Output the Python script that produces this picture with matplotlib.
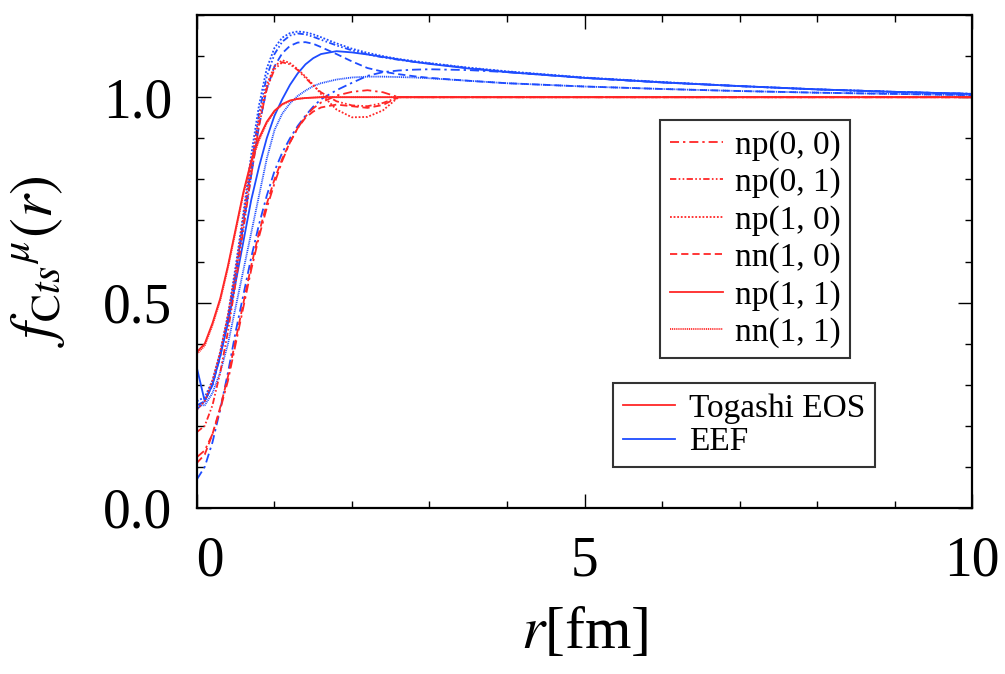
import matplotlib
matplotlib.use("Agg")
import matplotlib.pyplot as plt
from matplotlib.lines import Line2D
from matplotlib.ticker import MultipleLocator, FormatStrFormatter, FuncFormatter

plt.rcParams['font.family'] = ['Liberation Serif', 'DejaVu Serif']
plt.rcParams['mathtext.fontset'] = 'stix'

# r grid [fm]
r = [0, 0.1, 0.2, 0.3, 0.4, 0.5, 0.6, 0.7, 0.8, 0.9, 1.0, 1.1, 1.2, 1.3, 1.4, 1.5,
     1.6, 1.8, 2.0, 2.2, 2.4, 2.6, 2.8, 3.0, 3.5, 4, 5, 6, 7, 8, 9, 10]

channels = ['np(0, 0)', 'np(0, 1)', 'np(1, 0)', 'nn(1, 0)', 'np(1, 1)', 'nn(1, 1)']

# Togashi EOS (red)
tog_np00 = [0.124, 0.14, 0.18, 0.24, 0.31, 0.40, 0.49, 0.58, 0.66, 0.73, 0.79, 0.845, 0.89, 0.925, 0.953, 0.973,
            0.987, 1.004, 1.013, 1.017, 1.012, 1.0, 1.0, 1.0, 1.0, 1.0, 1.0, 1.0, 1.0, 1.0, 1.0, 1.0]
tog_np01 = [0.185, 0.20, 0.25, 0.33, 0.43, 0.55, 0.68, 0.81, 0.93, 1.02, 1.068, 1.085, 1.08, 1.066, 1.047, 1.028,
            1.012, 0.99, 0.98, 0.978, 0.986, 1.0, 1.0, 1.0, 1.0, 1.0, 1.0, 1.0, 1.0, 1.0, 1.0, 1.0]
tog_np10 = [0.24, 0.26, 0.31, 0.38, 0.47, 0.58, 0.71, 0.84, 0.95, 1.03, 1.075, 1.09, 1.083, 1.068, 1.05, 1.03,
            1.008, 0.97, 0.951, 0.952, 0.968, 1.0, 1.0, 1.0, 1.0, 1.0, 1.0, 1.0, 1.0, 1.0, 1.0, 1.0]
tog_nn10 = [0.11, 0.13, 0.18, 0.245, 0.32, 0.41, 0.50, 0.59, 0.67, 0.74, 0.80, 0.85, 0.89, 0.925, 0.95, 0.965,
            0.975, 0.982, 0.978, 0.974, 0.981, 1.0, 1.0, 1.0, 1.0, 1.0, 1.0, 1.0, 1.0, 1.0, 1.0, 1.0]
tog_np11 = [0.38, 0.40, 0.45, 0.51, 0.59, 0.68, 0.77, 0.845, 0.90, 0.94, 0.967, 0.983, 0.992, 0.996, 0.998, 0.999,
            1.0, 1.0, 1.0, 1.0, 1.0, 1.0, 1.0, 1.0, 1.0, 1.0, 1.0, 1.0, 1.0, 1.0, 1.0, 1.0]
tog_nn11 = [0.375, 0.395, 0.445, 0.505, 0.585, 0.675, 0.765, 0.84, 0.895, 0.937, 0.965, 0.982, 0.991, 0.996, 0.998, 0.999,
            1.0, 1.0, 1.0, 1.0, 1.0, 1.0, 1.0, 1.0, 1.0, 1.0, 1.0, 1.0, 1.0, 1.0, 1.0, 1.0]

# EEF (blue)
eef_np00 = [0.07, 0.10, 0.16, 0.24, 0.33, 0.43, 0.52, 0.61, 0.69, 0.76, 0.82, 0.865, 0.90, 0.93, 0.955, 0.977,
            0.995, 1.017, 1.035, 1.052, 1.061, 1.065, 1.067, 1.068, 1.066, 1.061, 1.047, 1.036, 1.027, 1.019, 1.013, 1.008]
eef_np01 = [0.24, 0.26, 0.30, 0.37, 0.46, 0.57, 0.70, 0.83, 0.96, 1.05, 1.105, 1.135, 1.15, 1.155, 1.153, 1.147,
            1.14, 1.126, 1.114, 1.104, 1.097, 1.091, 1.086, 1.082, 1.071, 1.062, 1.047, 1.036, 1.027, 1.019, 1.013, 1.008]
eef_np10 = [0.26, 0.27, 0.31, 0.38, 0.47, 0.59, 0.72, 0.86, 0.98, 1.07, 1.12, 1.145, 1.156, 1.16, 1.158, 1.153,
            1.146, 1.131, 1.118, 1.108, 1.1, 1.093, 1.088, 1.083, 1.072, 1.063, 1.048, 1.037, 1.027, 1.019, 1.013, 1.008]
eef_nn10 = [0.25, 0.26, 0.30, 0.37, 0.46, 0.57, 0.69, 0.81, 0.93, 1.02, 1.075, 1.107, 1.125, 1.133, 1.134, 1.13,
            1.122, 1.105, 1.087, 1.071, 1.062, 1.056, 1.051, 1.047, 1.04, 1.034, 1.026, 1.02, 1.015, 1.011, 1.008, 1.005]
eef_np11 = [0.34, 0.26, 0.30, 0.37, 0.45, 0.55, 0.65, 0.75, 0.83, 0.90, 0.955, 0.995, 1.03, 1.058, 1.08, 1.095,
            1.105, 1.112, 1.109, 1.104, 1.098, 1.092, 1.086, 1.081, 1.07, 1.061, 1.047, 1.036, 1.027, 1.019, 1.013, 1.008]
eef_nn11 = [0.25, 0.25, 0.28, 0.33, 0.40, 0.49, 0.58, 0.67, 0.76, 0.85, 0.92, 0.96, 0.985, 1.003, 1.016, 1.027,
            1.034, 1.043, 1.048, 1.05, 1.05, 1.049, 1.048, 1.046, 1.04, 1.034, 1.026, 1.02, 1.015, 1.011, 1.008, 1.005]

togashi = [tog_np00, tog_np01, tog_np10, tog_nn10, tog_np11, tog_nn11]
eef = [eef_np00, eef_np01, eef_np10, eef_nn10, eef_np11, eef_nn11]

styles = [(0, (5, 2.2, 1.3, 2.2)),
          (0, (3.5, 1.3, 0.9, 1.3, 0.9, 1.3)),
          (0, (1.0, 1.0)),
          (0, (4, 2.2)),
          '-',
          (0, (0.6, 0.45))]

RED = '#ff2626'
BLUE = '#1e4cff'
LW = 1.3

fig = plt.figure(figsize=(10.05, 6.74), dpi=100)
ax = fig.add_axes([0.196, 0.2463, 0.7712, 0.7314])

for ys, ls in zip(eef, styles):
    ax.plot(r, ys, color=BLUE, ls=ls, lw=LW)
for ys, ls in zip(togashi, styles):
    ax.plot(r, ys, color=RED, ls=ls, lw=LW)

ax.set_xlim(0, 10)
ax.set_ylim(0, 1.2)
ax.xaxis.set_major_locator(MultipleLocator(5))
ax.xaxis.set_minor_locator(MultipleLocator(1))
# the "0" label sits a little right of its tick in the original
ax.xaxis.set_major_formatter(FuncFormatter(lambda v, p: '  0' if v == 0 else '%d' % v))
ax.yaxis.set_major_locator(MultipleLocator(0.5))
ax.yaxis.set_minor_locator(MultipleLocator(0.1))
ax.yaxis.set_major_formatter(FormatStrFormatter('%.1f'))
ax.tick_params(which='both', direction='in', top=True, right=True, width=1.0, labelsize=40)
ax.tick_params(which='major', length=10)
ax.tick_params(which='minor', length=5)
ax.tick_params(axis='x', pad=20)
ax.tick_params(axis='y', pad=18)
for s in ax.spines.values():
    s.set_linewidth(1.6)

ax.set_xlabel(r'$r$[fm]', fontsize=43, labelpad=14)
ax.set_ylabel(r'$f_{\mathrm{C}ts}{}^{\mu}(r)$', fontsize=43, labelpad=26)

h1 = [Line2D([], [], color=RED, ls=ls, lw=LW) for ls in styles]
leg1 = ax.legend(h1, channels, loc='upper left', bbox_to_anchor=(0.597, 0.787),
                 fontsize=24, frameon=True, fancybox=False, edgecolor='black',
                 handlelength=1.6, handletextpad=0.35, labelspacing=0.2,
                 borderpad=0.3, borderaxespad=0)
leg1.get_frame().set_linewidth(1.5)
ax.add_artist(leg1)

h2 = [Line2D([], [], color=RED, lw=LW), Line2D([], [], color=BLUE, lw=LW)]
leg2 = ax.legend(h2, ['Togashi EOS', 'EEF'], loc='upper left', bbox_to_anchor=(0.537, 0.2535),
                 fontsize=24, frameon=True, fancybox=False, edgecolor='black',
                 handlelength=1.55, handletextpad=0.42, labelspacing=0.1,
                 borderpad=0.3, borderaxespad=0)
leg2.get_frame().set_linewidth(1.5)

fig.savefig('out.png', dpi=100)
